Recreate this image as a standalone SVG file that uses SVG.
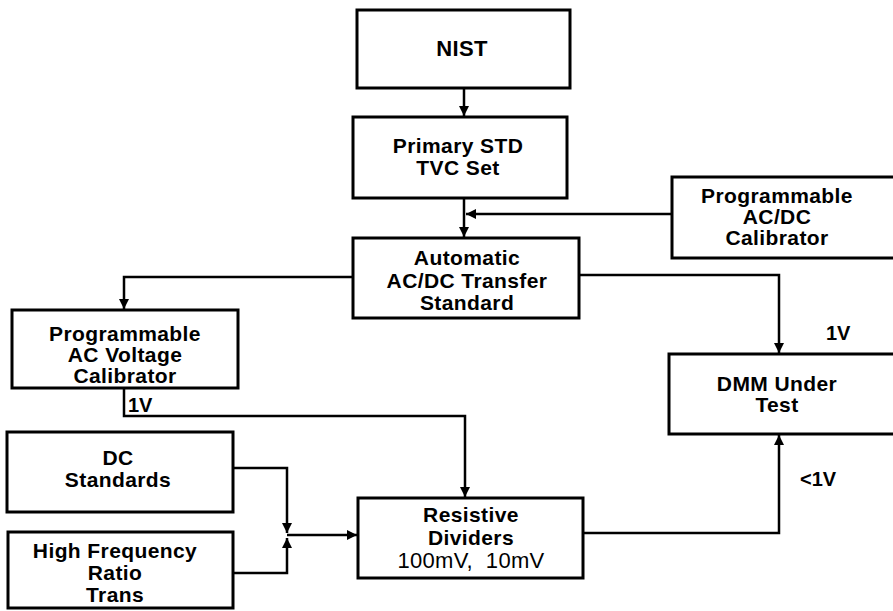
<svg xmlns="http://www.w3.org/2000/svg" width="893" height="611" viewBox="0 0 893 611">
  <style>
    .box { fill: #fff; stroke: #000; stroke-width: 3; }
    .lbl { font-family: "Liberation Sans", Arial, sans-serif; font-size: 21px; font-weight: bold; letter-spacing: 0.4px; text-anchor: middle; fill: #000; }
    .plain { font-weight: normal; font-size: 22px; letter-spacing: 0.3px; white-space: pre; }
    .tag { font-family: "Liberation Sans", Arial, sans-serif; font-size: 20px; font-weight: bold; fill: #000; }
    .wire { fill: none; stroke: #000; stroke-width: 2.5; }
  </style>
  <defs>
    <marker id="arrow" viewBox="0 0 10 10" refX="10" refY="5" markerWidth="4.5" markerHeight="4" orient="auto" markerUnits="strokeWidth">
      <path d="M0,0 L10,5 L0,10 Z" fill="#000"/>
    </marker>
  </defs>
  <rect width="893" height="611" fill="#fff"/>

  <!-- connectors -->
  <g id="connectors">
    <path class="wire" d="M464,89 V116" marker-end="url(#arrow)"/>
    <path class="wire" d="M464,199 V237" marker-end="url(#arrow)"/>
    <path class="wire" d="M671,214 H466" marker-end="url(#arrow)"/>
    <path class="wire" d="M352,277 H124 V309" marker-end="url(#arrow)"/>
    <path class="wire" d="M580,275 H779 V353" marker-end="url(#arrow)"/>
    <path class="wire" d="M124,389 V416 H465 V497" marker-end="url(#arrow)"/>
    <path class="wire" d="M234,468 H287 V533" marker-end="url(#arrow)"/>
    <path class="wire" d="M234,573 H287 V538" marker-end="url(#arrow)"/>
    <path class="wire" d="M287,535 H357" marker-end="url(#arrow)"/>
    <path class="wire" d="M584,533 H779 V435" marker-end="url(#arrow)"/>
    <text class="tag" x="128" y="412">1V</text>
    <text class="tag" x="826" y="340">1V</text>
    <text class="tag" x="800" y="486">&lt;1V</text>
  </g>

  <g id="nist">
    <rect class="box" x="357" y="10" width="213" height="78"/>
    <text class="lbl" x="462" y="56" style="font-size:22px">NIST</text>
  </g>

  <g id="primary-std">
    <rect class="box" x="353" y="117" width="214" height="81"/>
    <text class="lbl" x="458" y="153">Primary STD</text>
    <text class="lbl" x="458" y="175">TVC Set</text>
  </g>

  <g id="prog-acdc-calibrator">
    <rect class="box" x="672" y="177" width="230" height="81"/>
    <text class="lbl" x="777" y="203">Programmable</text>
    <text class="lbl" x="777" y="224">AC/DC</text>
    <text class="lbl" x="777" y="245">Calibrator</text>
  </g>

  <g id="transfer-standard">
    <rect class="box" x="353" y="238" width="226" height="80"/>
    <text class="lbl" x="467" y="265">Automatic</text>
    <text class="lbl" x="467" y="288">AC/DC Transfer</text>
    <text class="lbl" x="467" y="310">Standard</text>
  </g>

  <g id="prog-ac-calibrator">
    <rect class="box" x="12" y="310" width="226" height="78"/>
    <text class="lbl" x="125" y="341">Programmable</text>
    <text class="lbl" x="125" y="362">AC Voltage</text>
    <text class="lbl" x="125" y="383">Calibrator</text>
  </g>

  <g id="dmm">
    <rect class="box" x="669" y="354" width="233" height="80"/>
    <text class="lbl" x="777" y="391">DMM Under</text>
    <text class="lbl" x="777" y="412">Test</text>
  </g>

  <g id="dc-standards">
    <rect class="box" x="7" y="432" width="226" height="80"/>
    <text class="lbl" x="118" y="465">DC</text>
    <text class="lbl" x="118" y="487">Standards</text>
  </g>

  <g id="hf-ratio-trans">
    <rect class="box" x="8" y="532" width="225" height="76"/>
    <text class="lbl" x="115" y="558">High Frequency</text>
    <text class="lbl" x="115" y="580">Ratio</text>
    <text class="lbl" x="115" y="602">Trans</text>
  </g>

  <g id="resistive-dividers">
    <rect class="box" x="358" y="498" width="225" height="80"/>
    <text class="lbl" x="471" y="522">Resistive</text>
    <text class="lbl" x="471" y="545">Dividers</text>
    <text class="lbl plain" x="471" y="568">100mV,  10mV</text>
  </g>
</svg>
